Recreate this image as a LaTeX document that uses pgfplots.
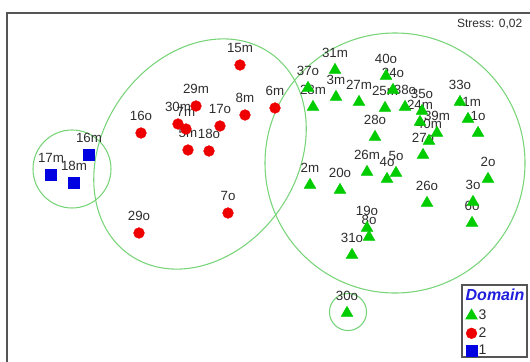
\documentclass[border=0pt]{standalone}
\usepackage{pgfplots}
\pgfplotsset{compat=1.18}
\usepackage{pgfplotstable}
\usepackage{fontspec}
\setmainfont{Liberation Sans}

\definecolor{ptgreen}{RGB}{0,204,0}
\definecolor{ptred}{RGB}{238,0,0}
\definecolor{ptblue}{RGB}{0,0,225}
\definecolor{hullgreen}{RGB}{120,212,120}
\definecolor{framegray}{RGB}{85,85,85}
\definecolor{labeltext}{RGB}{45,45,45}
\definecolor{titleblue}{RGB}{30,30,220}

% NMDS ordination scores, domain 3
\pgfplotstableread{
x y name
335 291 31m
386 285 40o
393 271 24o
308 273 37o
313 254 28m
336 264 3m
359 259 27m
385 253 25m
375 224 28o
405 254 38o
422 250 35o
420 239 24m
460 259 33o
468 242 41m
478 228 1o
437 228 39m
429 220 40m
423 206 27o
367 189 26m
387 182 4o
396 188 5o
310 176 2m
340 171 20o
427 158 26o
367 133 19o
369 124 8o
352 106 31o
488 182 2o
473 159 3o
472 138 6o
347 48 30o
}\domthree

% domain 2
\pgfplotstableread{
x y name
240 296 15m
196 255 29m
178 237 30m
186 232 7m
220 235 17o
245 246 8m
275 253 6m
141 228 16o
188 211 5m
209 210 18o
228 148 7o
139 128 29o
}\domtwo

% domain 1
\pgfplotstableread{
x y name
89 206 16m
51 186 17m
74 178 18m
}\domone

\begin{document}
\begin{tikzpicture}
\begin{axis}[
  scale only axis,
  width=393.75pt, height=262.5pt,
  xmin=7, xmax=532, ymin=-2, ymax=348,
  ticks=none,
  axis line style={framegray, line width=0.9pt},
  clip=false,
  legend style={at={(axis cs:461.5,55.5)}, anchor=north west, draw=none, fill=none,
    font=\fontsize{10.5}{12}\selectfont, text=labeltext,
    nodes={inner sep=1pt}, row sep=2.4pt},
  legend cell align=left,
  legend image code/.code={\draw[mark repeat=2,mark phase=2,#1] plot coordinates {(0pt,0pt)(5pt,0pt)(12.5pt,0pt)};},
  label nodes/.style={draw=none, mark=none, forget plot,
    nodes near coords, point meta=explicit symbolic,
    nodes near coords style={anchor=center, yshift=12.5pt, inner sep=0pt,
      font=\fontsize{10}{12}\selectfont, text=labeltext}},
]
% group outlines
\draw[hullgreen, line width=0.8pt] (axis cs:72,192) circle [radius=29.25pt];
\draw[hullgreen, line width=0.8pt, rotate around={55:(axis cs:200,207)}]
  (axis cs:200,207) ellipse [x radius=92.25pt, y radius=72.75pt];
\draw[hullgreen, line width=0.8pt] (axis cs:395,198) circle [radius=97.5pt];
\draw[hullgreen, line width=0.8pt] (axis cs:348,49) circle [radius=13.9pt];

% sample labels (below the markers)
\addplot[label nodes] table[meta=name] {\domthree};
\addplot[label nodes] table[meta=name] {\domtwo};
\addplot[label nodes] table[meta=name] {\domone};

% samples
\addplot[only marks, mark=triangle*, mark size=5pt, color=ptgreen] table {\domthree};
\addlegendentry{3}
\addplot[only marks, mark=*, mark size=4pt, color=ptred] table {\domtwo};
\addlegendentry{2}
\addplot[only marks, mark=square*, mark size=4pt, color=ptblue] table {\domone};
\addlegendentry{1}

% legend frame and title
\draw[framegray, line width=0.8pt, fill=white] (axis cs:462,4) rectangle (axis cs:527,76);
\node[font=\fontsize{12}{14}\selectfont\bfseries\itshape, text=titleblue] at (axis cs:495,66) {Domain};

\node[anchor=east, font=\fontsize{9}{11}\selectfont, text=labeltext] at (axis cs:527,337) {Stress: 0,02};
\end{axis}
\pgfresetboundingbox
\path[use as bounding box] (-5.25pt,1.5pt) rectangle (392.25pt,272.25pt);
\end{tikzpicture}
\end{document}
